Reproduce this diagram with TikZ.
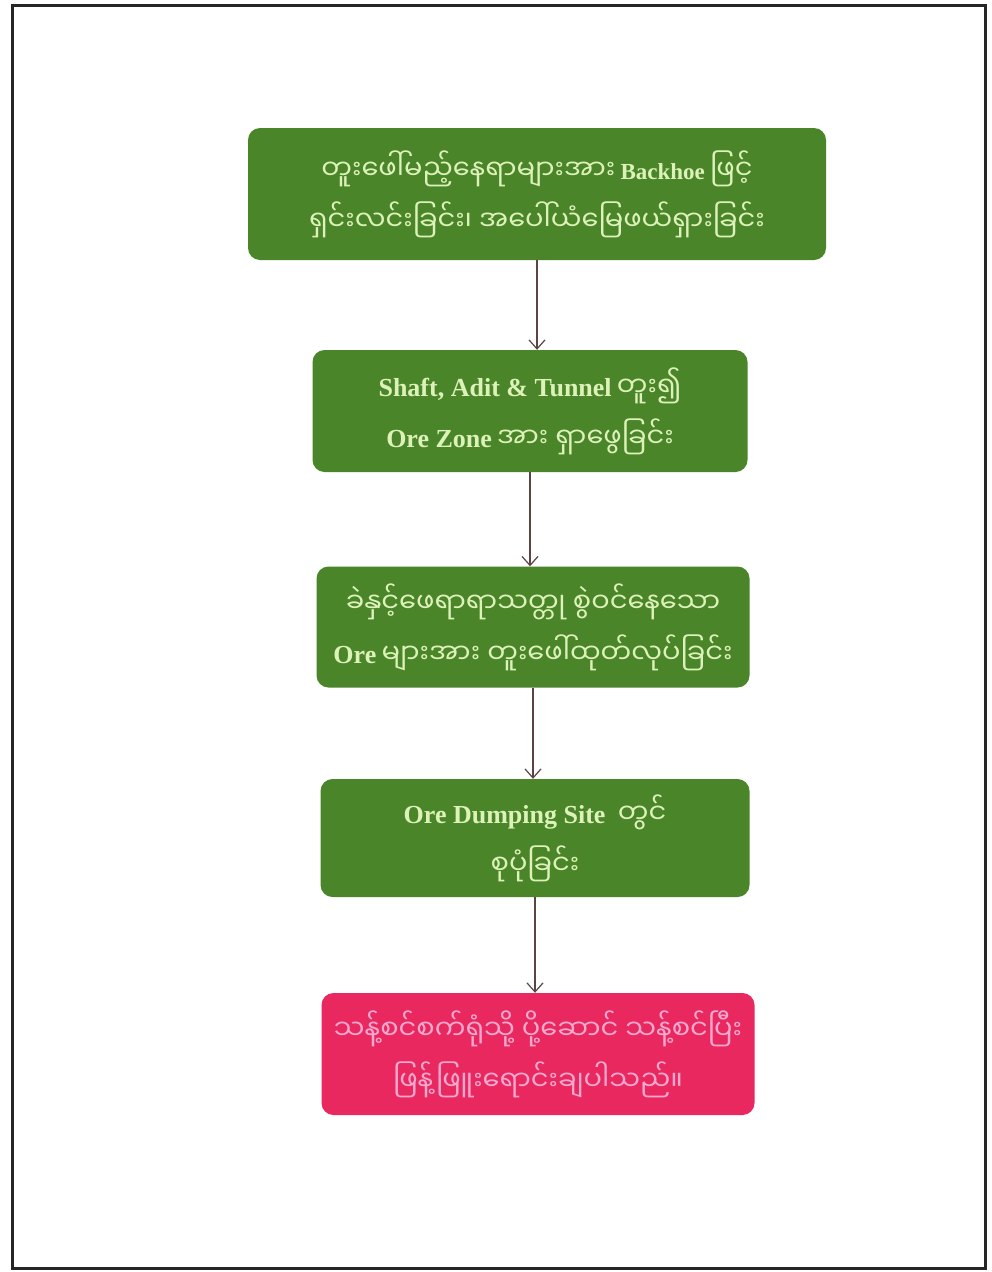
\documentclass[tikz,border=0pt]{standalone}
\usepackage{fontspec}
\setmainfont{Liberation Serif}
\newfontfamily\myfont[Script=Myanmar,Scale=1.3]{Noto Sans Myanmar UI}
\usetikzlibrary{arrows.meta}
\definecolor{boxgreen}{HTML}{4A8529}
\definecolor{boxpink}{HTML}{E8285E}
\definecolor{txtgreen}{HTML}{DDF2B8}
\definecolor{txtpink}{HTML}{F7A8CF}
\definecolor{arrowc}{HTML}{5A4444}
\newcommand{\lt}[1]{{\fontsize{23}{50}\selectfont\bfseries #1}}
\newcommand{\LT}[1]{{\fontsize{26}{50}\selectfont\bfseries #1}}
\begin{document}
\begin{tikzpicture}[x=1pt,y=-1pt,
  gbox/.style={rounded corners=12pt, fill=boxgreen, text=txtgreen, align=center, inner sep=0pt,
    font=\fontsize{21}{51}\selectfont},
  pbox/.style={gbox, fill=boxpink, text=txtpink},
  arr/.style={draw=arrowc, line width=1.2pt, -{Straight Barb[length=9pt,width=16pt,line width=1.2pt]}}]
\useasboundingbox (0,0) rectangle (991,1272);
\fill[white] (0,0) rectangle (991,1272);
\draw[line width=3pt, black!85] (12,5) rectangle (985,1268);

\node[gbox, minimum width=578, minimum height=132] (b1) at (537,194)
  {{\myfont တူးဖေါ်မည့်နေရာများအား} \lt{Backhoe} {\myfont ဖြင့်}\\{\myfont ရှင်းလင်းခြင်း၊ အပေါ်ယံမြေဖယ်ရှားခြင်း}};
\node[gbox, minimum width=435, minimum height=122] (b2) at (530,411)
  {\LT{Shaft, Adit \& Tunnel} {\myfont တူး၍}\\\LT{Ore Zone} {\myfont အား ရှာဖွေခြင်း}};
\node[gbox, minimum width=433, minimum height=121] (b3) at (533,627)
  {{\myfont ခဲနှင့်ဖေရာရာသတ္တု စွဲဝင်နေသော}\\\LT{Ore} {\myfont များအား တူးဖေါ်ထုတ်လုပ်ခြင်း}};
\node[gbox, minimum width=429, minimum height=118] (b4) at (535,838)
  {\LT{Ore Dumping Site} {\myfont\ တွင်}\\{\myfont စုပုံခြင်း}};
\node[pbox, minimum width=433, minimum height=122] (b5) at (538,1054)
  {{\myfont သန့်စင်စက်ရုံသို့ ပို့ဆောင် သန့်စင်ပြီး}\\{\myfont ဖြန့်ဖြူးရောင်းချပါသည်။}};

\draw[arr] (b1.south) -- (b1.south |- b2.north);
\draw[arr] (b2.south) -- (b2.south |- b3.north);
\draw[arr] (b3.south) -- (b3.south |- b4.north);
\draw[arr] (b4.south) -- (b4.south |- b5.north);
\end{tikzpicture}
\end{document}
